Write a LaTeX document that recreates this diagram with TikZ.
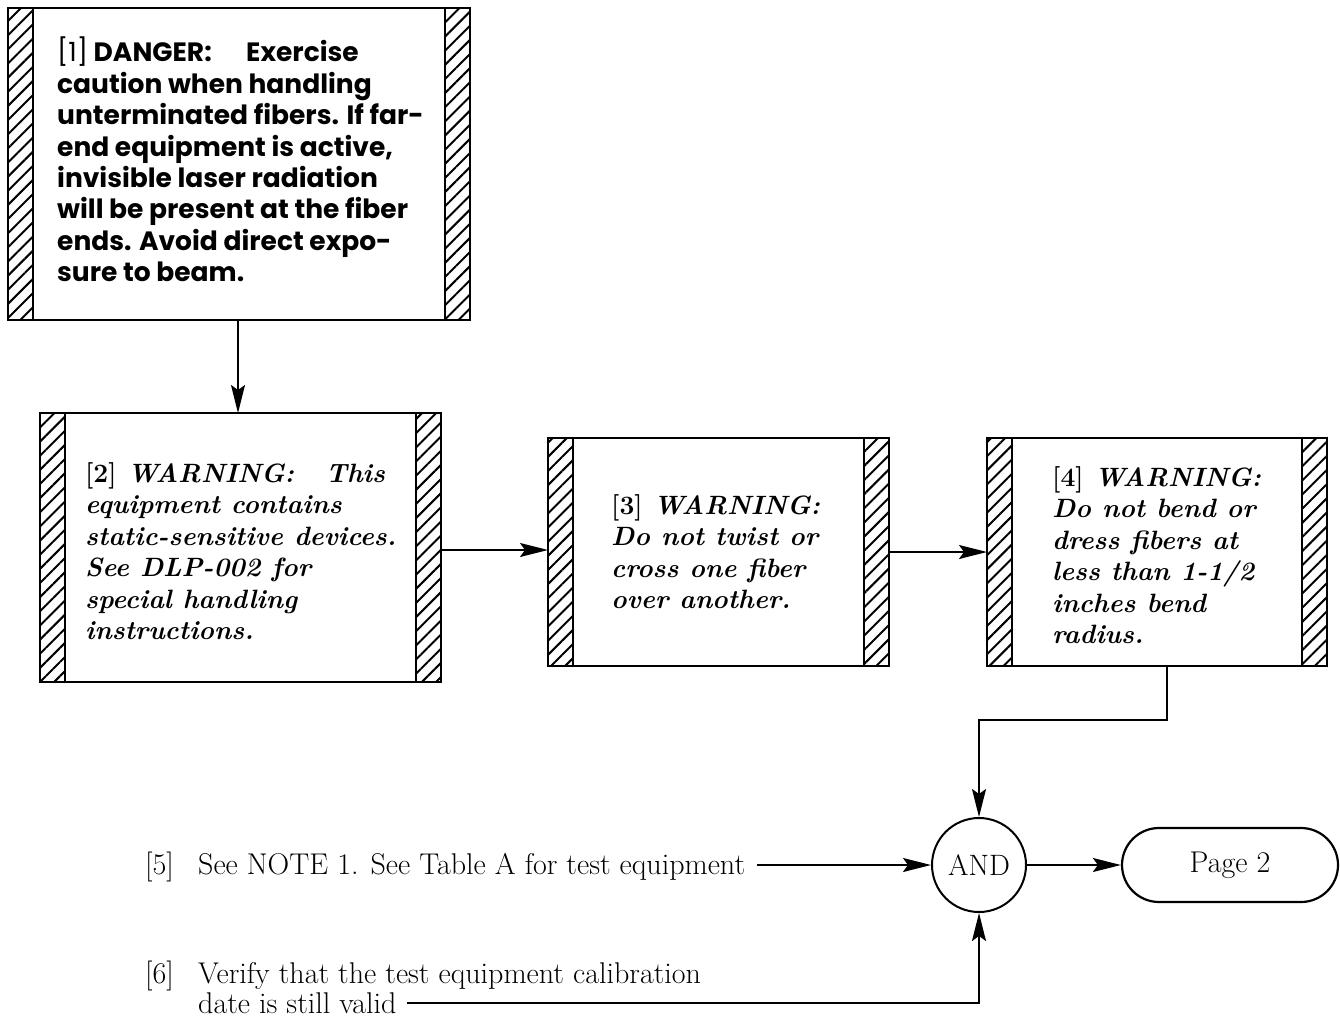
\documentclass[tikz,border=0pt]{standalone}
\usepackage{fontspec}
\newfontfamily\geofont{Poppins}
\usetikzlibrary{arrows.meta,patterns.meta,shapes.misc}
\begin{document}
\begin{tikzpicture}[x=1pt,y=-1pt,
  hatch/.style={pattern={Lines[angle=45,distance=10pt,line width=2pt]}},
  notebox/.style={draw, line width=2.4pt, inner sep=0pt, outer sep=0pt,
    path picture={
      \fill[hatch] (path picture bounding box.north west) rectangle ([xshift=25pt]path picture bounding box.south west);
      \fill[hatch] ([xshift=-25pt]path picture bounding box.north east) rectangle (path picture bounding box.south east);
      \draw[line width=2.4pt] ([xshift=25pt]path picture bounding box.north west) -- ([xshift=25pt]path picture bounding box.south west);
      \draw[line width=2.4pt] ([xshift=-25pt]path picture bounding box.north east) -- ([xshift=-25pt]path picture bounding box.south east);
    }},
  dangertext/.style={font=\geofont\bfseries\fontsize{26.5}{31.4}\selectfont, align=left, inner sep=0pt, anchor=north west},
  warntext/.style={font=\bfseries\itshape\fontsize{26.5}{31.5}\selectfont, align=left, inner sep=0pt, anchor=north west},
  plain/.style={font=\fontsize{30}{30}\selectfont, inner sep=0pt, anchor=base west},
  arr/.style={line width=1.8pt, -{Stealth[length=28pt,width=14pt,inset=5pt]}},
]
\useasboundingbox[fill=white] (0,0) rectangle (1340,1019);

% hatched note boxes
\node[notebox, minimum width=462pt, minimum height=312pt] (b1) at (239,164) {};
\node[notebox, minimum width=401pt, minimum height=269pt] (b2) at (240.5,547.5) {};
\node[notebox, minimum width=341pt, minimum height=228pt] (b3) at (718.5,552) {};
\node[notebox, minimum width=340pt, minimum height=228pt] (b4) at (1157,552) {};

% box texts
\node[dangertext] (t1) at (57,37) {{\mdseries[1]} DANGER:\hspace{1.3em}Exercise\\
caution when handling\\
unterminated fibers. If far-\\
end equipment is active,\\
invisible laser radiation\\
will be present at the fiber\\
ends. Avoid direct expo-\\
sure to beam.};
\node[warntext] (t2) at (85,462) {{\upshape[2]} WARNING:\hspace{1.2em}This\\
equipment contains\\
static-sensitive devices.\\
See DLP-002 for\\
special handling\\
instructions.};
\node[warntext] (t3) at (611,494) {{\upshape[3]} WARNING:\\
Do not twist or\\
cross one fiber\\
over another.};
\node[warntext] (t4) at (1052,466) {{\upshape[4]} WARNING:\\
Do not bend or\\
dress fibers at\\
less than 1-1/2\\
inches bend\\
radius.};

% junction and off-page connector
\node[draw, circle, line width=2pt, minimum size=94pt, inner sep=0pt, font=\fontsize{29.5}{30}\selectfont] (and) at (979,865) {AND};
\node[draw, rounded rectangle, line width=2.2pt, minimum width=216pt, minimum height=74pt, inner sep=0pt, font=\fontsize{30}{30}\selectfont] (p2) at (1230,865) {Page 2};

% free-standing steps
\node[plain] (n5) at (145,874) {\makebox[53pt][l]{[5]}See NOTE 1. See Table A for test equipment};
\node[plain] (n6) at (145,983) {\makebox[53pt][l]{[6]}Verify that the test equipment calibration};
\node[plain] (n6d) at (198,1013) {date is still valid};

% connectors
\draw[arr] (b1.south -| 238,0) -- (b2.north -| 238,0);
\draw[arr] (b2.east |- 0,550) -- (b3.west |- 0,550);
\draw[arr] (b3.east) -- (b4.west);
\draw[arr] ([xshift=10pt]b4.south) -- ++(0,54) -| (and.north);
\draw[arr] ([xshift=12pt]n5.east |- and.west) -- (and.west);
\draw[arr] ([xshift=10pt]n6d.east) -| (and.south);
\draw[arr] (and.east) -- (p2.west);
\end{tikzpicture}
\end{document}
